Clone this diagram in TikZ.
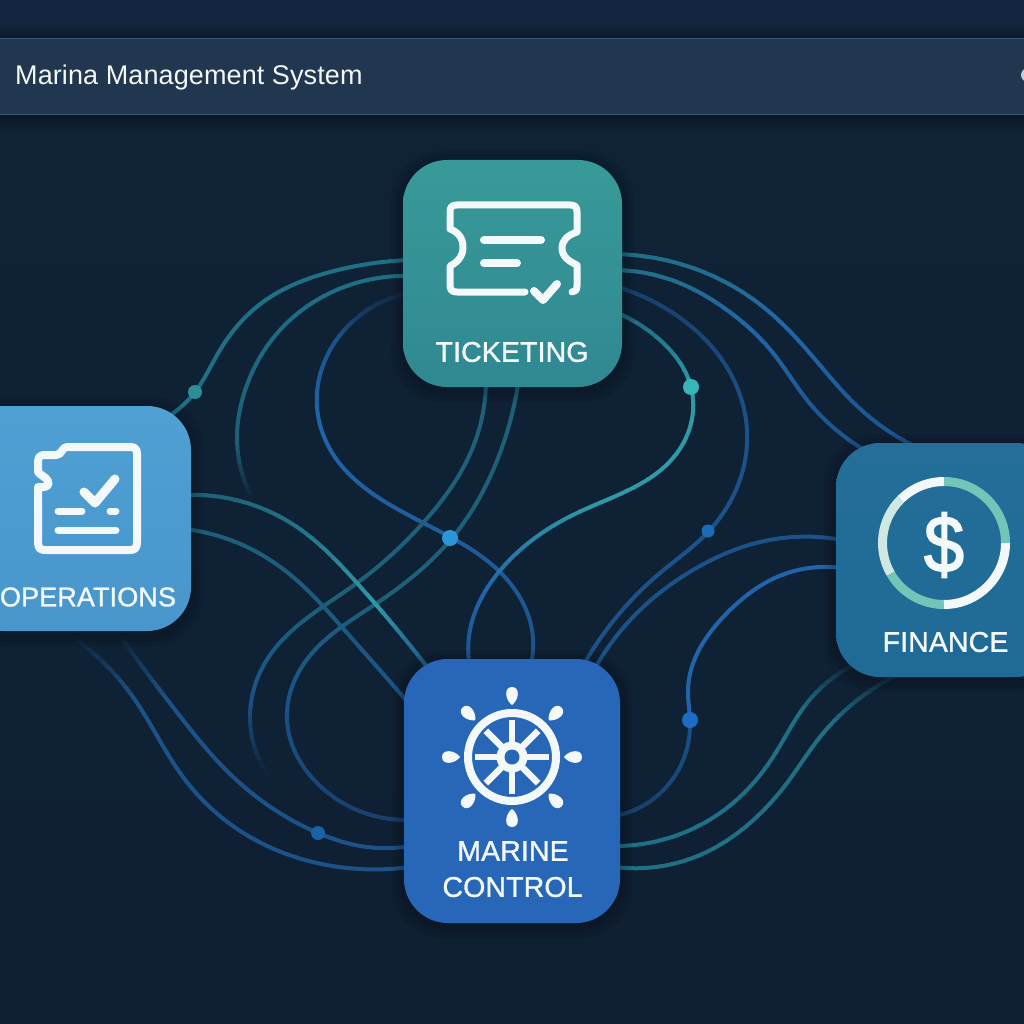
\documentclass[tikz,border=0pt]{standalone}
\usepackage{fontspec}
\setmainfont{Liberation Sans}
\newfontfamily\labelfont[FakeBold=1.2,LetterSpace=0.4]{Liberation Sans}
\newfontfamily\titlefont[LetterSpace=0.4]{Liberation Sans}
\newfontfamily\moneyfont[FakeBold=2.2]{Liberation Sans}
\usetikzlibrary{calc,hobby}
\definecolor{bgc}{HTML}{0F2236}
\definecolor{bgtop}{HTML}{12243E}
\definecolor{bgbot}{HTML}{0F2033}
\definecolor{hdr}{HTML}{21364F}
\definecolor{hdrline}{HTML}{3A5878}
\definecolor{tealdim}{HTML}{1D6078}
\definecolor{tealmid}{HTML}{1F7085}
\definecolor{tealbri}{HTML}{2F9AA6}
\definecolor{bluefnt}{HTML}{17406A}
\definecolor{bluedim}{HTML}{1C5288}
\definecolor{bluemid}{HTML}{2264AA}
\definecolor{inkc}{HTML}{F3F8FA}
\definecolor{ringteal}{HTML}{72C5B8}
\definecolor{ringpale}{HTML}{CFE8E2}
\definecolor{marineblue}{HTML}{2867B8}
\tikzset{
  link/.style={line width=4pt,line cap=round,line join=round,use Hobby shortcut},
  card/.style={rectangle,rounded corners=44pt,inner sep=0pt,draw=none},
  cardtext/.style={text=inkc,font=\labelfont\fontsize{28.5}{32}\selectfont,inner sep=0pt,anchor=center},
  iconline/.style={draw=inkc,line width=7pt,line cap=round,line join=round},
  junction/.style={circle,inner sep=0pt,draw=none},
}
\newcommand\plotcurve[2]{\draw[link,draw=#2] #1;}
\newcommand\band[5]{%
  \foreach \i in {1,...,10}{%
    \pgfmathsetmacro\ya{#2+(#3-#2)*(\i-1)/10}%
    \pgfmathsetmacro\yb{#2+(#3-#2)*\i/10+0.4}%
    \pgfmathsetmacro\m{100-(\i-0.5)*10}%
    \begin{scope}
      \clip (-20,\ya) rectangle (1044,\yb);
      \expandafter\plotcurve\expandafter{#1}{#4!\m!#5}
    \end{scope}
  }%
}
\newcommand\cardshadow[4]{%
  \foreach \r in {12,8,4}{%
    \fill[black,opacity=.07,rounded corners=50pt] (#1-\r,#2-\r+3) rectangle (#3+\r,#4+\r+3);
  }%
}
\begin{document}
\begin{tikzpicture}[x=1pt,y=-1pt]
\useasboundingbox (0,0) rectangle (1024,1024);
\begin{scope}
\clip (0,0) rectangle (1024,1024);
% background
\shade[top color=bgc,bottom color=bgbot] (0,120) rectangle (1024,1024);
\fill[bgtop] (0,0) rectangle (1024,120);
% header
\shade[top color=black!30!bgc,bottom color=bgc] (0,115) rectangle (1024,132);
\shade[top color=bgtop,bottom color=black!22!bgc] (0,24) rectangle (1024,38);
\node[rectangle,inner sep=0pt,minimum width=1030pt,minimum height=77pt,fill=hdr] (header) at (512,76.5) {};
\fill[hdrline] (header.north west) rectangle ($(header.north east)+(0,1.5)$);
\fill[hdrline] (header.south west) rectangle ($(header.south east)+(0,-1.5)$);
\node[circle,fill=white!70!hdrline,inner sep=0pt,minimum size=14pt] (hdrdot) at (1028,75) {};
\node[text=inkc,font=\titlefont\fontsize{27}{30}\selectfont,inner sep=0pt,anchor=west] (title) at (15,78) {Marina Management System};

% connector end points on the cards
\coordinate (tkA) at (410,260);
\coordinate (tkB) at (410,276);
\coordinate (tkC) at (408,293);
\coordinate (tkD) at (486,378);
\coordinate (tkE) at (519,378);
\coordinate (tkJ) at (610,254);
\coordinate (tkK) at (610,270);
\coordinate (tkL) at (610,285);
\coordinate (tkM) at (610,310);
\coordinate (opA) at (172,414);
\coordinate (opF) at (185,495);
\coordinate (opG) at (185,529);
\coordinate (opH) at (77,640);
\coordinate (opI) at (123,640);
\coordinate (mcC) at (530,668);
\coordinate (mcE) at (410,820);
\coordinate (mcF) at (428,668);
\coordinate (mcG) at (406,700);
\coordinate (mcH) at (410,867);
\coordinate (mcI) at (410,846);
\coordinate (mcL) at (584,664);
\coordinate (mcM) at (470,668);
\coordinate (mcN) at (594,670);
\coordinate (mcO) at (615,816);
\coordinate (mcP) at (615,846);
\coordinate (mcQ) at (615,867);
\coordinate (fnJ) at (912,445);
\coordinate (fnK) at (868,452);
\coordinate (fnN) at (842,540);
\coordinate (fnO) at (842,568);
\coordinate (fnP) at (855,664);
\coordinate (fnQ) at (895,676);
\coordinate (freeB) at (252,498);
\coordinate (freeD) at (268,775);

\def\cA{(tkA) .. (330,272) .. (263,302) .. (220,350) .. (195,392) .. (opA)}
\def\cB{(tkB) .. (330,293) .. (280,330) .. (243,397) .. (237,437) .. (freeB)}
\def\cC{(tkC) .. (347,327) .. (317,407) .. (337,460) .. (387,503) .. (452,538) .. (500,572) .. (532,630) .. (mcC)}
\def\cD{(tkD) .. (473,447) .. (423,523) .. (357,583) .. (268,658) .. (250,720) .. (freeD)}
\def\cE{(tkE) .. (500,453) .. (452,538) .. (377,603) .. (308,658) .. (287,720) .. (317,783) .. (mcE)}
\def\cF{(opF) .. (247,503) .. (297,527) .. (357,583) .. (mcF)}
\def\cG{(opG) .. (247,547) .. (293,577) .. (340,625) .. (mcG)}
\def\cH{(opH) .. (133,697) .. (183,777) .. (250,837) .. (317,863) .. (mcH)}
\def\cI{(opI) .. (183,720) .. (223,767) .. (318,833) .. (367,847) .. (mcI)}
\def\cJ{(tkJ) .. (677,263) .. (727,283) .. (767,310) .. (807,350) .. (857,406) .. (fnJ)}
\def\cK{(tkK) .. (677,282) .. (727,310) .. (773,353) .. (807,400) .. (fnK)}
\def\cL{(tkL) .. (673,313) .. (720,357) .. (747,430) .. (708,532) .. (660,573) .. (mcL)}
\def\cM{(tkM) .. (660,340) .. (691,387) .. (677,453) .. (577,513) .. (498,573) .. (470,630) .. (mcM)}
\def\cN{(fnN) .. (760,542) .. (693,570) .. (640,610) .. (mcN)}
\def\cO{(fnO) .. (777,577) .. (727,613) .. (688,690) .. (690,720) .. (680,767) .. (mcO)}
\def\cP{(mcP) .. (683,833) .. (733,803) .. (773,757) .. (807,703) .. (fnP)}
\def\cQ{(mcQ) .. (700,855) .. (750,823) .. (787,783) .. (820,737) .. (fnQ)}

% connectors
\plotcurve{\cA}{tealmid}
\band{\cB}{270}{440}{tealmid}{tealdim}
\band{\cB}{440}{500}{tealdim}{bgc}
\band{\cC}{285}{340}{bgc}{bluedim}
\band{\cC}{340}{420}{bluedim}{bluemid}
\band{\cC}{420}{672}{bluemid}{bluedim}
\band{\cD}{375}{600}{tealdim}{tealdim}
\band{\cD}{600}{700}{tealdim}{bluedim}
\band{\cD}{700}{776}{bluedim}{bgc}
\band{\cE}{375}{600}{tealdim}{tealdim}
\band{\cE}{600}{700}{tealdim}{bluedim}
\band{\cE}{700}{830}{bluedim}{bluefnt}
\band{\cF}{490}{605}{tealdim}{tealbri}
\band{\cF}{605}{672}{tealbri}{bluedim}
\band{\cG}{525}{705}{tealdim}{bluedim}
\band{\cH}{635}{700}{bgc}{bluedim}
\band{\cH}{700}{872}{bluedim}{bluedim}
\band{\cI}{635}{700}{bgc}{bluedim}
\band{\cI}{700}{852}{bluedim}{bluedim}
\band{\cJ}{250}{330}{tealmid}{bluemid}
\band{\cJ}{330}{450}{bluemid}{bluedim}
\band{\cK}{266}{330}{tealmid}{bluemid}
\band{\cK}{330}{456}{bluemid}{bluedim}
\band{\cL}{280}{430}{bluefnt}{bluedim}
\band{\cL}{430}{672}{bluedim}{bluedim}
\band{\cM}{305}{387}{tealdim}{tealbri}
\band{\cM}{387}{500}{tealbri}{tealbri}
\band{\cM}{500}{590}{tealbri}{bluemid}
\band{\cM}{590}{672}{bluemid}{bluedim}
\plotcurve{\cN}{bluedim}
\band{\cO}{560}{720}{bluemid}{bluemid}
\band{\cO}{720}{822}{bluedim}{bluefnt}
\band{\cP}{660}{710}{bgc}{tealmid}
\band{\cP}{710}{852}{tealmid}{tealmid}
\band{\cQ}{670}{725}{bgc}{tealmid}
\band{\cQ}{725}{872}{tealmid}{tealmid}

% junction dots
\node[junction,fill={rgb,255:red,42;green,143;blue,150},minimum size=14pt] (dotA) at (195,392) {};
\node[junction,fill={rgb,255:red,42;green,151;blue,216},minimum size=16pt] (dotB) at (450,538) {};
\node[junction,fill={rgb,255:red,58;green,181;blue,181},minimum size=16pt] (dotC) at (691,387) {};
\node[junction,fill={rgb,255:red,27;green,108;blue,184},minimum size=13pt] (dotD) at (708,531) {};
\node[junction,fill={rgb,255:red,27;green,108;blue,196},minimum size=16pt] (dotE) at (690,720) {};
\node[junction,fill={rgb,255:red,26;green,98;blue,168},minimum size=14pt] (dotF) at (318,833) {};

% card shadows
\cardshadow{403}{160}{622}{387}
\cardshadow{-40}{406}{191}{631}
\cardshadow{836}{443}{1060}{677}
\cardshadow{404}{659}{620}{923}

% cards
\node[card,minimum width=219pt,minimum height=227pt,top color={rgb,255:red,56;green,154;blue,152},bottom color={rgb,255:red,48;green,136;blue,146}] (ticketing) at (512.5,273.5) {};
\node[card,minimum width=231pt,minimum height=225pt,top color={rgb,255:red,80;green,160;blue,212},bottom color={rgb,255:red,72;green,150;blue,203}] (operations) at (75.5,518.5) {};
\node[card,minimum width=224pt,minimum height=234pt,top color={rgb,255:red,36;green,110;blue,153},bottom color={rgb,255:red,31;green,106;blue,150}] (finance) at (948,560) {};
\node[card,minimum width=216pt,minimum height=264pt,fill=marineblue] (marine) at (512,791) {};

% ticket icon
\draw[iconline] (525,292) -- (457,292) .. controls (452,292) and (450,290) .. (450,285) -- (450,266)
  .. controls (458,262) and (463,256) .. (463,247) .. controls (463,238) and (458,232) .. (450,229)
  -- (450,212) .. controls (450,207) and (452,205) .. (457,205) -- (570,205)
  .. controls (575,205) and (577,207) .. (577,212) -- (577,232)
  .. controls (568,235) and (562,240) .. (562,248) .. controls (562,256) and (568,261) .. (577,265)
  -- (577,286) .. controls (577,290) and (575,292) .. (572,292);
\draw[iconline,line width=8pt] (484,240) -- (541,240) (484,263) -- (517,263);
\draw[iconline,line width=8pt] (534,291) -- (543,300) -- (557,284);

% operations icon
\draw[iconline,line width=8pt] (67,447) -- (130,447) .. controls (135,447) and (137,449) .. (137,454) -- (137,542)
  .. controls (137,548) and (135,550) .. (130,550) -- (45,550) .. controls (40,550) and (38,548) .. (38,542)
  -- (38,487) .. controls (46,488) and (50,486) .. (48,481) .. controls (46,477) and (40,475) .. (38,472)
  -- (38,462) .. controls (38,457) and (40,455) .. (45,455) -- (56,455) .. controls (62,455) and (62,447) .. (67,447) -- cycle;
\draw[iconline,line width=9pt] (84,492) -- (95,503) -- (115,479);
\draw[iconline] (58,511) -- (82,511) (110,511) -- (116,511) (58,530) -- (116,530);

% ship's wheel icon
\draw[inkc,line width=8pt] (512,757) circle[radius=44];
\foreach \a in {0,45,...,315}{
  \draw[inkc,line width=6.5pt] (512,757) -- ++(\a:37);
  \fill[inkc,shift={(512,757)},rotate=\a] (52,0) .. controls (57,-7) and (70,-8.5) .. (70,0) .. controls (70,8.5) and (57,7) .. (52,0) -- cycle;
}
\fill[inkc] (512,757) circle[radius=15.5];
\fill[marineblue] (512,757) circle[radius=7.5];

% finance icon
\draw[inkc,line width=9pt] (944,481.5) arc[start angle=-90,end angle=-135,radius=61.5];
\draw[ringpale,line width=9pt] (944,543) ++(-135:61.5) arc[start angle=-135,end angle=-210,radius=61.5];
\draw[ringteal,line width=9pt] (944,543) ++(-210:61.5) arc[start angle=-210,end angle=-270,radius=61.5];
\draw[inkc,line width=9pt] (944,604.5) arc[start angle=90,end angle=0,radius=61.5];
\draw[ringteal,line width=9pt] (1005.5,543) arc[start angle=0,end angle=-90,radius=61.5];
\node[text=inkc,font=\moneyfont\fontsize{80}{90}\selectfont,inner sep=0pt,xscale=.9] (dollar) at (944,545) {\$};

% card labels
\node[cardtext] (ticketinglabel) at (512,352) {TICKETING};
\node[cardtext,font=\labelfont\fontsize{27}{32}\selectfont] (operationslabel) at (88,597) {OPERATIONS};
\node[cardtext] (financelabel) at (945.5,642) {FINANCE};
\node[cardtext] (marinelabel) at (513,851) {MARINE};
\node[cardtext] (controllabel) at (512.5,887) {CONTROL};
\end{scope}
\end{tikzpicture}
\end{document}
